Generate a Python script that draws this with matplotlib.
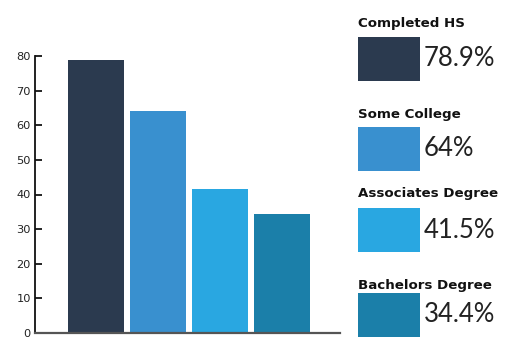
import matplotlib
matplotlib.use("Agg")
import matplotlib.pyplot as plt
from matplotlib.patches import Rectangle

# ---- data ----
categories = ["Completed HS", "Some College", "Associates Degree", "Bachelors Degree"]
values = [78.9, 64, 41.5, 34.4]
colors = ["#2b3a4f", "#3990cf", "#29a7e1", "#1b7fa9"]
yticks = [0, 10, 20, 30, 40, 50, 60, 70, 80]

W, H = 509, 339
fig = plt.figure(figsize=(W / 100, H / 100), dpi=100)

def fx(px):
    return px / W

def fy(py):
    return 1 - py / H

# axes box in pixels: left 35, right 340, top 56, bottom 333
ax = fig.add_axes([fx(35), fy(333), fx(340) - fx(35), fy(56) - fy(333)])
x = list(range(len(categories)))
ax.bar(x, values, width=0.9, color=colors)
ax.set_xlim(-0.99, 3.935)
ax.set_ylim(0, 80)
ax.set_yticks(yticks)
ax.set_yticklabels([str(t) for t in yticks], fontsize=8.2, color="#222222",
                   family="DejaVu Sans")
ax.set_xticks([])
ax.tick_params(axis="y", direction="in", length=5, width=1.2, pad=3)
for s in ("top", "right"):
    ax.spines[s].set_visible(False)
ax.spines["left"].set_linewidth(1.3)
ax.spines["left"].set_color("#111111")
ax.spines["bottom"].set_linewidth(1.6)
ax.spines["bottom"].set_color("#555555")

# ---- legend (manual) ----
label_y = [24, 114, 194, 286]       # label centers (px)
swatch_top = [37, 127, 208, 293]    # swatch tops (px)
swatch_h = 44
sw_left, sw_right = 358, 420
for i, (cat, v, c) in enumerate(zip(categories, values, colors)):
    fig.text(fx(sw_left), fy(label_y[i]), cat, fontsize=9.6, fontweight="bold",
             family="DejaVu Sans", va="center", ha="left", color="#111111")
    fig.patches.append(Rectangle((fx(sw_left), fy(swatch_top[i] + swatch_h)),
                                 fx(sw_right) - fx(sw_left),
                                 fy(swatch_top[i]) - fy(swatch_top[i] + swatch_h),
                                 transform=fig.transFigure, facecolor=c,
                                 edgecolor="none"))
    fig.text(fx(424), fy(swatch_top[i] + swatch_h / 2), f"{v:g}%", fontsize=18.5,
             family="Lato", va="center", ha="left", color="#222222")

fig.savefig("out.png", dpi=100)
